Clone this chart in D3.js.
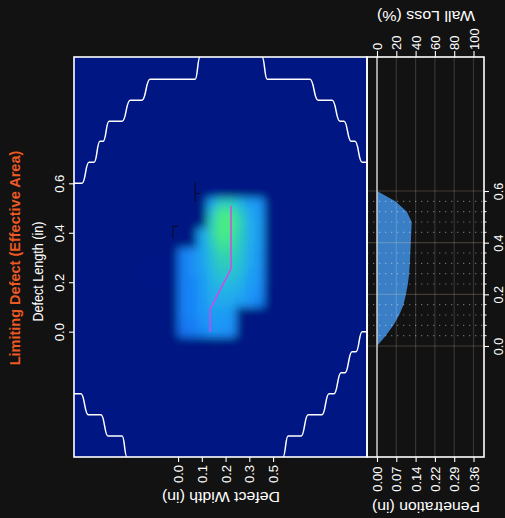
<!DOCTYPE html>
<html>
<head>
<meta charset="utf-8">
<script src="https://cdn.jsdelivr.net/npm/d3@7"></script>
<style>
  html, body { margin: 0; padding: 0; background: #121212; }
  svg { display: block; font-family: "Liberation Sans", Arial, Helvetica, sans-serif; }
</style>
</head>
<body>
<svg id="chart" width="505" height="518"></svg>
<script>
// ---------- axis ticks ----------
const widthTicks = [0, 0.1125, 0.225, 0.3375, 0.45];
const widthTickLabels = ["0.0", "0.1", "0.2", "0.3", "0.5"];
const lengthTicks = [0, 0.2, 0.4, 0.6];
const lengthTickLabels = ["0.0", "0.2", "0.4", "0.6"];
const lengthMinorTicks = [0.04, 0.08, 0.12, 0.16, 0.24, 0.28, 0.32, 0.36, 0.44, 0.48, 0.52, 0.56];
const wallLossTicks = [0, 20, 40, 60, 80, 100];
const wallLossTickLabels = ["0", "20", "40", "60", "80", "100"];
const penetrationTickLabels = ["0.00", "0.07", "0.14", "0.22", "0.29", "0.36"];

// ---------- wall loss profile along the defect length ----------
const profileLength = [0, 0.04, 0.08, 0.12, 0.16, 0.20, 0.24, 0.28, 0.32, 0.36, 0.40, 0.44, 0.48, 0.52, 0.56, 0.60];
const profileWallLoss = [0, 9, 17, 23, 27.5, 30, 32, 33.3, 34, 34.5, 35, 35.5, 36, 31, 19, 0];

// ---------- wall loss map (% of wall), cells of 0.045 in x 0.04 in ----------
const gridWidth = [-0.1575, -0.1125, -0.0675, -0.0225, 0.0225, 0.0675, 0.1125, 0.1575, 0.2025, 0.2475, 0.2925, 0.3375, 0.3825];
const gridLength = [0.56, 0.52, 0.48, 0.44, 0.40, 0.36, 0.32, 0.28, 0.24, 0.20, 0.16, 0.12, 0.08, 0.04, 0.00];
const gridWallLoss = [
  [0, 0, 0, 0,  0,  0,  0,  2,  2,  0,  0,  0,  0],
  [0, 0, 0, 0,  0,  0,  0, 20, 28, 28, 24, 19, 17],
  [0, 0, 0, 0,  0,  0,  0, 26, 35, 35, 28, 21, 18],
  [0, 0, 0, 0,  0,  0,  0, 29, 37, 36, 30, 22, 19],
  [0, 0, 0, 0,  0,  0, 20, 29, 36, 35, 29, 22, 19],
  [0, 0, 0, 0,  0,  0, 20, 28, 34, 33, 28, 22, 19],
  [0, 0, 0, 0, 14, 16, 20, 26, 31, 31, 27, 21, 18],
  [1, 1, 1, 1, 14, 16, 20, 25, 29, 29, 26, 21, 18],
  [1, 1, 1, 1, 14, 16, 19, 24, 27, 27, 25, 20, 17],
  [1, 1, 1, 1, 14, 15, 18, 23, 25, 25, 23, 19, 17],
  [0, 0, 0, 0, 14, 15, 18, 22, 23, 23, 21, 18, 16],
  [0, 0, 0, 0, 14, 15, 17, 21, 21, 21, 19, 17, 15],
  [0, 0, 0, 0, 14, 15, 17, 19, 19, 18,  0,  0,  0],
  [0, 0, 0, 0, 13, 14, 16, 18, 18, 17,  0,  0,  0],
  [0, 0, 0, 0, 12, 13, 15, 17, 17, 16,  0,  0,  0]
];
const cellWidth = 0.045;
const cellLength = 0.04;

// ---------- interaction boundary (width, length) ----------
const boundaryTopLeftW  = [-0.493, -0.455, -0.422, -0.398, -0.370, -0.355, -0.327, -0.265, -0.227, -0.171, -0.133, 0.081, 0.104];
const boundaryTopLeftL  = [0.600, 0.600, 0.685, 0.685, 0.770, 0.770, 0.851, 0.851, 0.936, 0.936, 1.021, 1.021, 1.111];
const boundaryTopRightW = [0.398, 0.422, 0.625, 0.663, 0.730, 0.767, 0.786, 0.820, 0.838, 0.872, 0.895];
const boundaryTopRightL = [1.111, 1.021, 1.021, 0.936, 0.936, 0.851, 0.851, 0.770, 0.770, 0.685, 0.685];
const boundaryBotLeftW  = [-0.493, -0.460, -0.426, -0.365, -0.332, -0.265, -0.242];
const boundaryBotLeftL  = [-0.251, -0.251, -0.336, -0.336, -0.422, -0.422, -0.507];
const boundaryBotRightW = [0.497, 0.521, 0.583, 0.616, 0.682, 0.715, 0.739, 0.772, 0.791, 0.824, 0.843, 0.872, 0.895];
const boundaryBotRightL = [-0.507, -0.422, -0.422, -0.336, -0.336, -0.251, -0.251, -0.166, -0.166, -0.081, -0.081, 0.0, 0.0];

// ---------- deepest path through the defect ----------
const pathW = [0.152, 0.152, 0.251, 0.251];
const pathL = [0.0, 0.092, 0.254, 0.508];

// ---------- corner markers ----------
const markerAW = [0.104, 0.081, 0.081, 0.081];
const markerAL = [0.559, 0.559, 0.605, 0.524];
const markerBW = [0.0, -0.025, -0.025];
const markerBL = [0.426, 0.426, 0.377];

// ================= drawing =================
const svg = d3.select("#chart");
svg.append("rect").attr("width", 505).attr("height", 518).attr("fill", "#121212");

const main = { left: 74, right: 367, top: 57, bottom: 457 };
const side = { left: 367, right: 484, top: 57, bottom: 457 };

const x = d3.scaleLinear().domain([-0.493, 0.895]).range([main.left, main.right]);
const y = d3.scaleLinear().domain([-0.507, 1.111]).range([main.bottom, main.top]);
const xs = d3.scaleLinear().domain([0, 100]).range([377, 473.5]);
const ys = d3.scaleLinear().domain([0, 0.6]).range([346, 191]);

const color = d3.scaleLinear()
  .domain([0, 3, 10, 17, 24, 30, 36])
  .range(["#001282", "#041c92", "#1064ec", "#1c94f8", "#24b6e4", "#30d2b0", "#4aec84"])
  .clamp(true);

const defs = svg.append("defs");
defs.append("clipPath").attr("id", "clipMain").append("rect")
  .attr("x", main.left).attr("y", main.top)
  .attr("width", main.right - main.left).attr("height", main.bottom - main.top);
defs.append("filter").attr("id", "soften")
  .attr("x", "-10%").attr("y", "-10%").attr("width", "120%").attr("height", "120%")
  .append("feGaussianBlur").attr("stdDeviation", 4.5);

// --- main map panel ---
const plot = svg.append("g").attr("clip-path", "url(#clipMain)");
const heat = plot.append("g").attr("filter", "url(#soften)");
heat.append("rect")
  .attr("x", main.left - 30).attr("y", main.top - 30)
  .attr("width", main.right - main.left + 60).attr("height", main.bottom - main.top + 60)
  .attr("fill", color(0));

const cells = [];
gridLength.forEach((l, i) => gridWidth.forEach((w, j) => {
  const v = gridWallLoss[i][j];
  if (v > 0) cells.push({ w, l, v });
}));
heat.selectAll("rect.cell").data(cells).join("rect")
  .attr("class", "cell")
  .attr("x", d => x(d.w - cellWidth / 2))
  .attr("width", d => x(d.w + cellWidth / 2) - x(d.w - cellWidth / 2) + 0.5)
  .attr("y", d => y(d.l + cellLength / 2))
  .attr("height", d => y(d.l - cellLength / 2) - y(d.l + cellLength / 2) + 0.5)
  .attr("fill", d => color(d.v))
  .attr("shape-rendering", "crispEdges");

const zip = (a, b) => a.map((v, i) => [v, b[i]]);
const stair = d3.line().x(d => x(d[0])).y(d => y(d[1])).curve(d3.curveBumpX);
[[boundaryTopLeftW, boundaryTopLeftL], [boundaryTopRightW, boundaryTopRightL],
 [boundaryBotLeftW, boundaryBotLeftL], [boundaryBotRightW, boundaryBotRightL]].forEach(([ws, ls]) => {
  plot.append("path").attr("d", stair(zip(ws, ls)))
    .attr("fill", "none").attr("stroke", "#ffffff").attr("stroke-width", 1.5);
});

const straight = d3.line().x(d => x(d[0])).y(d => y(d[1]));
plot.append("path").attr("d", straight(zip(pathW, pathL)))
  .attr("fill", "none").attr("stroke", "#e040e6").attr("stroke-width", 1.4);
[[markerAW, markerAL], [markerBW, markerBL]].forEach(([ws, ls]) => {
  plot.append("path").attr("d", straight(zip(ws, ls)))
    .attr("fill", "none").attr("stroke", "#050a30").attr("stroke-width", 1.1);
});

// --- side profile panel ---
const sideG = svg.append("g");
const profile = zip(profileLength, profileWallLoss);
sideG.append("path")
  .attr("d", d3.area().y(d => ys(d[0])).x0(xs(0)).x1(d => xs(d[1]))(profile))
  .attr("fill", "#3a7fc6");

// vertical grid
sideG.selectAll("line.vgrid").data(wallLossTicks.slice(1)).join("line")
  .attr("x1", d => xs(d)).attr("x2", d => xs(d))
  .attr("y1", side.top).attr("y2", side.bottom)
  .attr("stroke", "rgba(255,255,255,0.15)").attr("stroke-width", 1.2);
// horizontal major grid
sideG.selectAll("line.hgrid").data(lengthTicks).join("line")
  .attr("x1", side.left).attr("x2", side.right)
  .attr("y1", d => ys(d)).attr("y2", d => ys(d))
  .attr("stroke", "rgba(255,225,190,0.2)").attr("stroke-width", 1.2);
// horizontal dotted minor grid
sideG.selectAll("line.mgrid").data(lengthMinorTicks).join("line")
  .attr("x1", side.left).attr("x2", side.right)
  .attr("y1", d => ys(d)).attr("y2", d => ys(d))
  .attr("stroke", "rgba(255,255,255,0.36)").attr("stroke-width", 1.1)
  .attr("stroke-dasharray", "1.3 4.7");
// zero line
sideG.append("line")
  .attr("x1", xs(0)).attr("x2", xs(0)).attr("y1", side.top).attr("y2", side.bottom)
  .attr("stroke", "#cfcfcf").attr("stroke-width", 1.5);

// --- panel frames ---
svg.append("rect").attr("x", main.left).attr("y", main.top)
  .attr("width", main.right - main.left).attr("height", main.bottom - main.top)
  .attr("fill", "none").attr("stroke", "#ffffff").attr("stroke-width", 1.6);
svg.append("rect").attr("x", side.left).attr("y", side.top)
  .attr("width", side.right - side.left).attr("height", side.bottom - side.top)
  .attr("fill", "none").attr("stroke", "#ffffff").attr("stroke-width", 1.6);

// --- axes ---
function styleAxis(g, tx, ty, anchor, size = 13) {
  g.select(".domain").remove();
  g.selectAll(".tick line").attr("stroke", "#ffffff").attr("stroke-width", 1.1);
  g.selectAll(".tick text")
    .attr("fill", "#ffffff").attr("font-size", size)
    .attr("transform", "rotate(-90)")
    .attr("x", tx).attr("y", ty).attr("dy", null)
    .attr("text-anchor", anchor);
}

svg.append("g").attr("transform", `translate(${main.left},0)`)
  .call(d3.axisLeft(y).tickValues(lengthTicks).tickFormat((d, i) => lengthTickLabels[i]).tickSize(5))
  .call(g => styleAxis(g, 0, -10.5, "middle"));

svg.append("g").attr("transform", `translate(0,${main.bottom})`)
  .call(d3.axisBottom(x).tickValues(widthTicks).tickFormat((d, i) => widthTickLabels[i]).tickSize(5))
  .call(g => styleAxis(g, -8, 4.6, "end"));

svg.append("g").attr("transform", `translate(0,${side.top})`)
  .call(d3.axisTop(xs).tickValues(wallLossTicks).tickFormat((d, i) => wallLossTickLabels[i]).tickSize(6))
  .call(g => styleAxis(g, 7, 4.6, "start"));

svg.append("g").attr("transform", `translate(0,${side.bottom})`)
  .call(d3.axisBottom(xs).tickValues(wallLossTicks).tickFormat((d, i) => penetrationTickLabels[i]).tickSize(5))
  .call(g => styleAxis(g, -9.5, 4.6, "end"));

const rightAxis = svg.append("g").attr("transform", `translate(${side.right},0)`);
rightAxis.call(d3.axisRight(ys).tickValues(lengthTicks).tickFormat((d, i) => lengthTickLabels[i]).tickSize(5))
  .call(g => styleAxis(g, 0, 19, "middle", 12.5));
rightAxis.selectAll("line.minor").data(lengthMinorTicks).join("line")
  .attr("x1", 0).attr("x2", 2.5).attr("y1", d => ys(d)).attr("y2", d => ys(d))
  .attr("stroke", "#ffffff").attr("stroke-width", 1);

// --- titles ---
function title(text, tx, ty, rot, opts = {}) {
  const t = svg.append("text")
    .attr("transform", `translate(${tx},${ty}) rotate(${rot})`)
    .attr("text-anchor", "middle")
    .attr("fill", opts.fill || "#ffffff")
    .attr("font-size", opts.size || 14)
    .attr("font-weight", opts.weight || "normal")
    .text(text);
  if (opts.length) t.attr("textLength", opts.length).attr("lengthAdjust", "spacingAndGlyphs");
  return t;
}
title("Wall Loss (%)", 426, 11, 180, { length: 98 });
title("Penetration (in)", 426, 502, 180, { length: 108 });
title("Defect Width (in)", 221, 492, 180, { length: 118 });
title("Defect Length (in)", 43, 271.5, -90, { size: 14.5, length: 100 });
title("Limiting Defect (Effective Area)", 20, 258, -90, { size: 14.5, weight: "bold", fill: "#ec5a22" });
</script>
</body>
</html>
